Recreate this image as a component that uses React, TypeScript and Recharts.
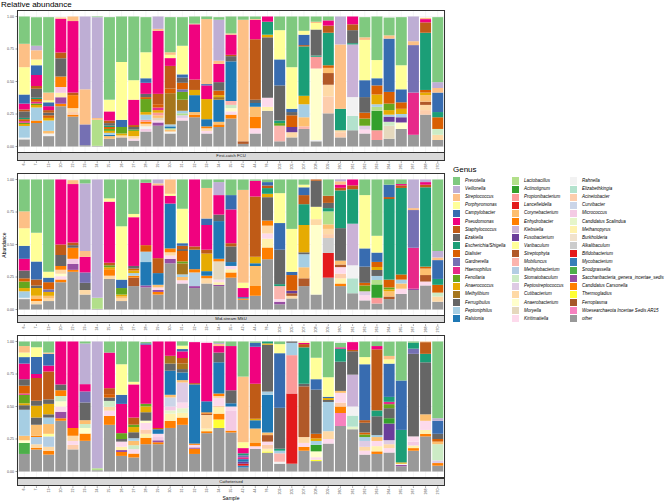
import React from 'react'
import { BarChart, Bar, XAxis, YAxis, CartesianGrid } from 'recharts'

// sample ids on the x axis (same for all three panels)
const samples = [
  '6', '7', '13', '20', '22', '23', '24', '25', '26', '27', '28', '29', '30', '31', '32', '33', '34', '35',
  '42', '44', '76', '203', '205', '207', '208', '209', '260', '261', '262', '263', '264', '265', '267', '268', '270'
]

// genus short keys, in legend order (first = top of stack)
const genusKeys = [
  'Prev', 'Veil', 'Strep', 'Porph', 'Campy', 'Pseud', 'Staph', 'Ezak', 'Esch', 'Dial', 'Gard', 'Haem',
  'Fen', 'Anaer', 'Methyl', 'Ferrug', 'Pepto', 'Ralst',
  'Lacto', 'Actin', 'Propi', 'Lance', 'Coryn', 'Enhyd', 'Kleb', 'Fuso', 'Varib', 'Sphyta', 'Mobil',
  'MethB', 'Stoma', 'PStrep', 'Cuti', 'AnaerB', 'Mory', 'Kirit',
  'Rahn', 'Eliz', 'Acin', 'Curv', 'Micro', 'Scal', 'Metha', 'Burk', 'Alka', 'Bifid', 'Myco', 'Snod',
  'Sacc', 'Cars', 'Therm', 'Ferro', 'Woes', 'other'
]

const genusNames = [
  'Prevotella', 'Veillonella', 'Streptococcus', 'Porphyromonas', 'Campylobacter', 'Pseudomonas',
  'Staphylococcus', 'Ezakiella', 'Escherichia/Shigella', 'Dialister', 'Gardnerella', 'Haemophilus',
  'Fenollaria', 'Anaerococcus', 'Methylibium', 'Ferrugibulus', 'Peptoniphilus', 'Ralstonia',
  'Lactobacillus', 'Actinotignum', 'Propionibacterium', 'Lancefieldella', 'Corynebacterium', 'Enhydrobacter',
  'Klebsiella', 'Fusobacterium', 'Varibaculum', 'Streptophyta', 'Mobiluncus', 'Methylobacterium',
  'Stomatobaculum', 'Peptostreptococcus', 'Cutibacterium', 'Anaerobacterium', 'Moryella', 'Kiritimatiella',
  'Rahnella', 'Elizabethkingia', 'Acinetobacter', 'Curvibacter', 'Micrococcus', 'Candidatus Scalindua',
  'Methanopyrus', 'Burkholderia', 'Alkalibaculum', 'Bifidobacterium', 'Mycobacterium', 'Snodgrassella',
  'Saccharibacteria_genera_incertae_sedis', 'Candidatus Carsonella', 'Thermogladius', 'Ferroplasma',
  'Woesearchaeota Incertae Sedis AR15', 'other'
]

const genusColors = [
  '#7FC97F', '#BEAED4', '#FDC086', '#FFFF99', '#386CB0', '#F0027F', '#BF5B17', '#666666', '#1B9E77',
  '#D95F02', '#7570B3', '#E7298A', '#66A61E', '#E6AB02', '#A6761D', '#666666', '#A6CEE3', '#1F78B4',
  '#B2DF8A', '#33A02C', '#FB9A99', '#E31A1C', '#FDBF6F', '#FF7F00', '#CAB2D6', '#6A3D9A', '#FFFF99',
  '#B15928', '#FBB4AE', '#B3CDE3', '#CCEBC5', '#DECBE4', '#FED9A6', '#FFFFCC', '#E5D8BD', '#FDDAEC',
  '#F2F2F2', '#B3E2CD', '#FDCDAC', '#CBD5E8', '#F4CAE4', '#E6F5C9', '#FFF2AE', '#F1E2CC', '#CCCCCC',
  '#E41A1C', '#377EB8', '#4DAF4A', '#984EA3', '#FF7F00', '#FFFF33', '#A65628', '#F781BF', '#999999'
]

type Abundance = Record<string, number>

// First-catch FCU
const fcu: Abundance[] = [
  { Prev: .21, Strep: .18, Porph: .21, Campy: .07, Pseud: .045, Staph: .015, Ezak: .05, Esch: .01, Dial: .015, Haem: .012, Fen: .01, Anaer: .015, Pepto: .09, Rahn: .013, other: .055 },
  { Prev: .22, Veil: .035, Strep: .07, Porph: .045, Campy: .075, Pseud: .085, Staph: .02, Ezak: .07, Esch: .01, Dial: .02, Haem: .015, Fen: .01, Anaer: .02, Pepto: .1, Enhyd: .02, other: .18 },
  { Prev: .58, Strep: .06, Porph: .015, Campy: .03, Pseud: .03, Staph: .02, Ezak: .02, Dial: .02, Anaer: .02, Pepto: .08, Coryn: .02, Rahn: .02, other: .08 },
  { Strep: .01, Pseud: .26, Staph: .045, Ezak: .14, Enhyd: .08, Micro: .045, Metha: .035, Sacc: .05, Cars: .018, other: .31 },
  { Strep: .035, Pseud: .55, Staph: .02, Enhyd: .1, Cuti: .03, Acin: .02, Cars: .015, other: .23 },
  { Veil: .56, Strep: .27, Gard: .16, other: .01 },
  { Prev: .005, Veil: .775, Strep: .015, Lacto: .2, other: .005 },
  { Prev: .635, Porph: .09, Pseud: .07, Staph: .02, Ezak: .02, Esch: .01, Dial: .015, Fen: .015, Anaer: .015, Pepto: .015, Ralst: .01, Coryn: .02, other: .06 },
  { Prev: .35, Porph: .445, Campy: .055, Fen: .05, Anaer: .015, Cuti: .015, other: .07 },
  { Prev: .49, Porph: .15, Pseud: .195, Staph: .015, Ezak: .02, Fen: .01, Anaer: .04, Cuti: .02, Kirit: .015, other: .045 },
  { Prev: .27, Porph: .2, Campy: .035, Pseud: .085, Ezak: .025, Dial: .015, Fen: .1, Anaer: .02, Pepto: .04, Propi: .015, Enhyd: .015, Cuti: .02, Rahn: .02, Micro: .02, other: .115 },
  { Veil: .095, Strep: .015, Pseud: .485, Staph: .08, Dial: .025, Haem: .02, Anaer: .02, Propi: .02, Coryn: .02, Mory: .02, Kirit: .015, Sacc: .025, other: .16 },
  { Prev: .27, Strep: .02, Porph: .025, Pseud: .06, Staph: .175, Dial: .035, Methyl: .24, Pepto: .015, Ralst: .015, Lacto: .01, Coryn: .015, Rahn: .015, other: .1 },
  { Prev: .22, Porph: .22, Campy: .025, Ezak: .04, Dial: .05, Gard: .02, Fen: .06, Methyl: .085, Pepto: .02, Lacto: .015, PStrep: .02, Kirit: .02, other: .2 },
  { Prev: .055, Strep: .005, Pseud: .425, Staph: .08, Anaer: .04, Ralst: .13, Coryn: .02, Cars: .02, other: .225 },
  { Prev: .02, Strep: .5, Campy: .01, Pseud: .105, Anaer: .155, Ralst: .055, Enhyd: .015, Cuti: .02, Kirit: .02, other: .1 },
  { Prev: .02, Veil: .315, Strep: .025, Pseud: .14, Ezak: .065, Dial: .035, Anaer: .015, Methyl: .02, Ralst: .17, Coryn: .02, Enhyd: .02, other: .15 },
  { Prev: .13, Strep: .01, Pseud: .155, Staph: .01, Ezak: .04, Ralst: .305, Mobil: .03, Stoma: .025, AnaerB: .025, Kirit: .025, Cars: .03, other: .215 },
  { Prev: .025, Strep: .935, Sphyta: .02, other: .02 },
  { Prev: .02, Strep: .005, Pseud: .15, Staph: .465, Ezak: .025, Ralst: .03, Coryn: .075, Enhyd: .09, Kirit: .04, other: .1 },
  { Pseud: .04, Esch: .1, Anaer: .02, Ferrug: .465, Kirit: .07, Metha: .03, other: .275 },
  { Prev: .105, Porph: .225, Campy: .2, Ezak: .27, Esch: .02, Fen: .02, Mobil: .12, other: .04 },
  { Prev: .39, Porph: .32, Campy: .025, Ezak: .025, Dial: .09, Fuso: .04, Cuti: .04, other: .07 },
  { Prev: .11, Porph: .03, Campy: .08, Staph: .01, Esch: .38, Anaer: .065, Pepto: .1, Coryn: .07, Mobil: .02, other: .135 },
  { Prev: .04, Strep: .01, Porph: .05, Ezak: .2, Esch: .01, Propi: .09, AnaerB: .55, Rahn: .01, other: .04 },
  { Prev: .03, Pseud: .04, Staph: .055, Esch: .25, Dial: .02, Coryn: .04, Sphyta: .09, Cuti: .09, Acin: .13, other: .255 },
  { Veil: .215, Strep: .495, Esch: .165, Cuti: .015, Acin: .04, other: .07 },
  { Pseud: .06, Staph: .045, Ezak: .1, Esch: .01, Kleb: .405, Rahn: .145, Eliz: .11, other: .125 },
  { Prev: .155, Strep: .02, Porph: .31, Campy: .13, Ezak: .12, Dial: .045, Fen: .055, PStrep: .03, Kirit: .03, other: .1 },
  { Prev: .335, Porph: .14, Campy: .055, Dial: .07, Anaer: .075, Pepto: .02, Lacto: .03, Actin: .15, Propi: .075, other: .05 },
  { Prev: .137, Strep: .025, Campy: .41, Dial: .09, Fen: .05, Anaer: .035, Pepto: .015, Fuso: .04, Stoma: .03, Mory: .1, other: .06 },
  { Prev: .37, Porph: .185, Campy: .1, Dial: .05, Anaer: .04, Pepto: .025, Fuso: .04, AnaerB: .05, other: .135 },
  { Veil: .19, Strep: .03, Gard: .365, Haem: .325, other: .09 },
  { Strep: .01, Pseud: .025, Staph: .08, Esch: .44, Dial: .02, Anaer: .02, Coryn: .05, Sphyta: .025, Cuti: .04, Acin: .035, other: .245 },
  { Prev: .5, Veil: .045, Strep: .035, Campy: .15, Esch: .04, Dial: .09, Stoma: .045, Cuti: .04, other: .05 }
]

// Mid-stream MSU
const msu: Abundance[] = [
  { Prev: .245, Strep: .13, Porph: .135, Campy: .1, Pseud: .09, Ezak: .06, Dial: .025, Fen: .05, Anaer: .025, Pepto: .05, Rahn: .01, other: .08 },
  { Prev: .41, Porph: .22, Campy: .14, Staph: .045, Ezak: .02, Anaer: .06, Enhyd: .015, Coryn: .025, Cuti: .025, other: .04 },
  { Prev: .71, Porph: .045, Campy: .035, Dial: .055, Gard: .02, Anaer: .03, Coryn: .02, Cuti: .02, other: .065 },
  { Pseud: .5, Staph: .08, Ezak: .085, Enhyd: .03, Cuti: .03, AnaerB: .02, Kirit: .025, Cars: .02, other: .21 },
  { Strep: .03, Pseud: .45, Staph: .02, Ezak: .02, Enhyd: .085, Micro: .04, Sacc: .045, Cars: .015, other: .29 },
  { Prev: .03, Veil: .52, Strep: .045, Pseud: .12, Gard: .08, Ferrug: .055, Cuti: .035, other: .115 },
  { Veil: .91, Lacto: .085, other: .005 },
  { Prev: .145, Porph: .025, Pseud: .47, Staph: .02, Fen: .015, Anaer: .015, Enhyd: .05, Cuti: .025, other: .235 },
  { Prev: .36, Porph: .41, Campy: .065, Fen: .05, Anaer: .015, Coryn: .015, Cuti: .02, other: .065 },
  { Prev: .265, Porph: .025, Pseud: .375, Ezak: .02, Dial: .015, Anaer: .02, Pepto: .02, Enhyd: .015, Sphyta: .065, other: .18 },
  { Prev: .025, Pseud: .48, Dial: .05, Pepto: .08, Ralst: .18, Sacc: .015, other: .17 },
  { Veil: .03, Strep: .015, Pseud: .56, Staph: .115, Ralst: .09, Coryn: .02, Kirit: .02, Sacc: .015, Cars: .02, other: .115 },
  { Strep: .11, Porph: .015, Pseud: .06, Ralst: .345, Enhyd: .03, Cuti: .025, Kirit: .025, Sacc: .035, other: .355 },
  { Prev: .225, Porph: .265, Campy: .02, Staph: .025, Ezak: .015, Dial: .08, Fen: .015, Methyl: .085, Pepto: .02, Coryn: .025, Kirit: .025, other: .2 },
  { Pseud: .515, Staph: .025, Ralst: .15, Enhyd: .025, MethB: .105, Sacc: .015, other: .165 },
  { Prev: .065, Strep: .235, Campy: .05, Pseud: .19, Staph: .03, Anaer: .135, Ralst: .035, Enhyd: .02, Cuti: .04, other: .2 },
  { Prev: .02, Veil: .1, Pseud: .15, Ezak: .05, Ralst: .29, Enhyd: .02, Mory: .14, Kirit: .02, Metha: .02, Sacc: .01, other: .18 },
  { Prev: .12, Campy: .11, Pseud: .26, Staph: .025, Ezak: .12, Ralst: .03, Kirit: .025, Metha: .025, Cars: .04, other: .245 },
  { Prev: .08, Strep: .715, Porph: .04, Pseud: .07, Ralst: .01, Enhyd: .01, other: .075 },
  { Prev: .01, Pseud: .12, Staph: .465, Anaer: .05, Ralst: .02, Coryn: .155, Enhyd: .075, other: .105 },
  { Prev: .02, Campy: .026, Staph: .02, Esch: .044, Anaer: .026, Ferrug: .18, Enhyd: .039, Cuti: .06, Kirit: .04, Metha: .068, Cars: .09, other: .387 },
  { Prev: .105, Porph: .23, Campy: .205, Ezak: .265, Esch: .015, Mobil: .1, Kirit: .02, Sacc: .02, other: .04 },
  { Prev: .38, Porph: .33, Campy: .025, Dial: .12, Fuso: .02, Sphyta: .02, Cuti: .02, other: .085 },
  { Prev: .04, Porph: .02, Campy: .06, Staph: .07, Esch: .16, Anaer: .21, Ferrug: .015, Pepto: .1, Coryn: .085, Sphyta: .06, other: .18 },
  { Staph: .01, Ezak: .2, Varib: .095, Cuti: .045, AnaerB: .535, other: .115 },
  { Prev: .125, Staph: .055, Ezak: .04, Esch: .025, Lacto: .1, Coryn: .035, Cuti: .04, Acin: .03, Alka: .115, Bifid: .19, other: .245 },
  { Veil: .015, Strep: .025, Pseud: .025, Staph: .02, Esch: .29, Ferrug: .25, Coryn: .03, Sphyta: .02, Kirit: .05, Acin: .036, Metha: .04, Cars: .02, other: .18 },
  { Pseud: .045, Staph: .03, Esch: .265, Kleb: .32, Rahn: .1, Eliz: .115, other: .125 },
  { Prev: .12, Porph: .41, Campy: .14, Ezak: .125, Dial: .02, Fen: .045, PStrep: .03, Kirit: .04, other: .07 },
  { Prev: .433, Porph: .129, Campy: .072, Dial: .039, Anaer: .023, Ferrug: .046, Pepto: .031, Lacto: .034, Actin: .103, Propi: .044, other: .046 },
  { Prev: .04, Campy: .095, Staph: .015, Esch: .62, Dial: .06, Fen: .015, Anaer: .015, Coryn: .04, Sphyta: .02, other: .08 },
  { Prev: .035, Pseud: .01, Staph: .02, Esch: .665, Dial: .04, Pepto: .03, Coryn: .04, Kirit: .04, other: .12 },
  { Veil: .22, Strep: .015, Gard: .29, Haem: .315, Sacc: .01, other: .15 },
  { Veil: .02, Pseud: .02, Staph: .02, Esch: .61, Dial: .015, Coryn: .05, Sphyta: .05, Kirit: .03, other: .185 },
  { Prev: .55, Veil: .05, Strep: .02, Campy: .145, Esch: .045, Dial: .06, Stoma: .03, Cuti: .04, other: .06 }
]

// Catheterised
const cath: Abundance[] = [
  { Prev: .035, Strep: .05, Porph: .035, Campy: .05, Pseud: .12, Ezak: .05, Dial: .06, Haem: .01, Fen: .065, Anaer: .015, Ferrug: .035, Pepto: .2, Coryn: .035, AnaerB: .02, Snod: .085, other: .135 },
  { Prev: .045, Porph: .075, Campy: .13, Pseud: .03, Staph: .175, Ezak: .04, Anaer: .09, Ferrug: .055, Enhyd: .01, Coryn: .085, MethB: .055, Cuti: .03, Cars: .01, other: .17 },
  { Prev: .085, Strep: .01, Campy: .09, Pseud: .045, Staph: .215, Ezak: .035, Anaer: .08, Ferrug: .025, Pepto: .05, Coryn: .075, Varib: .02, MethB: .08, Cuti: .03, Cars: .03, other: .13 },
  { Pseud: .33, Ezak: .045, Enhyd: .045, Stoma: .04, AnaerB: .04, Kirit: .04, Sacc: .05, Cars: .02, other: .39 },
  { Pseud: .665, Enhyd: .06, Cuti: .04, Kirit: .03, Acin: .035, other: .17 },
  { Prev: .015, Veil: .313, Pseud: .056, Gard: .085, Ferrug: .136, Coryn: .03, Stoma: .03, AnaerB: .043, Cars: .056, other: .236 },
  { Veil: .975, Lacto: .015, other: .01 },
  { Prev: .085, Pseud: .274, Staph: .046, Dial: .026, Ferrug: .026, Stoma: .045, Cuti: .03, Kirit: .04, Cars: .069, other: .359 },
  { Prev: .175, Porph: .235, Campy: .07, Pseud: .225, Fen: .045, Ferrug: .02, Kirit: .04, Metha: .025, Sacc: .015, Cars: .03, other: .12 },
  { Prev: .31, Porph: .02, Pseud: .255, Staph: .055, Fen: .018, Anaer: .04, Ferrug: .046, Pepto: .02, Coryn: .034, Stoma: .03, Kirit: .034, Cars: .03, other: .108 },
  { Prev: .01, Campy: .01, Pseud: .455, Fen: .02, Anaer: .045, Ferrug: .065, AnaerB: .018, Kirit: .05, Acin: .033, Metha: .03, Cars: .05, other: .21 },
  { Pseud: .665, Dial: .01, Ralst: .035, Kirit: .025, Micro: .025, Sacc: .015, Cars: .015, other: .21 },
  { Pseud: .11, Methyl: .06, Ferrug: .055, Ralst: .185, Coryn: .02, Curv: .07, Micro: .03, Scal: .025, Metha: .055, Cars: .055, other: .335 },
  { Prev: .033, Porph: .026, Campy: .018, Pseud: .051, Staph: .041, Methyl: .044, Ferrug: .026, Ralst: .059, Coryn: .018, PStrep: .154, Kirit: .044, Scal: .036, Metha: .036, Cars: .056, other: .359 },
  { Pseud: .315, Staph: .01, Ralst: .455, Enhyd: .01, Kirit: .02, Sacc: .01, Cars: .04, other: .135 },
  { Pseud: .45, Ralst: .085, Enhyd: .01, Sphyta: .01, Cuti: .105, Metha: .02, Cars: .015, other: .295 },
  { Prev: .01, Veil: .01, Strep: .015, Pseud: .05, Ezak: .075, Ralst: .24, Enhyd: .02, Cuti: .015, Kirit: .06, Acin: .01, Metha: .05, Cars: .045, Therm: .065, other: .335 },
  { Prev: .035, Pseud: .34, Ezak: .1, Ralst: .025, Kirit: .03, Micro: .155, Cars: .015, other: .3 },
  { Prev: .27, Strep: .505, Porph: .045, Pseud: .04, Esch: .015, Gard: .015, Haem: .015, Ralst: .02, Fuso: .015, Bifid: .015, Myco: .015, other: .03 },
  { Prev: .01, Campy: .03, Pseud: .285, Staph: .27, Anaer: .01, Ralst: .065, Coryn: .11, Enhyd: .025, Kirit: .02, other: .175 },
  { Esch: .015, Anaer: .01, Ferrug: .36, Pepto: .025, Ralst: .29, Coryn: .02, Sphyta: .05, Kirit: .025, Acin: .03, Metha: .02, Therm: .01, other: .145 },
  { Prev: .02, Porph: .07, Campy: .42, Ezak: .315, Esch: .015, Pepto: .02, Mobil: .065, Rahn: .015, other: .06 },
  { Ezak: .01, Pepto: .095, Propi: .295, Lance: .54, other: .06 },
  { Porph: .01, Pseud: .01, Staph: .025, Esch: .28, Ferrug: .02, Sphyta: .39, Cuti: .045, Kirit: .03, Cars: .03, other: .16 },
  { Prev: .125, Porph: .165, Campy: .08, Ezak: .34, Dial: .035, Anaer: .02, Pepto: .03, Actin: .05, AnaerB: .045, Kirit: .02, Therm: .01, other: .08 },
  { Prev: .275, Porph: .15, Campy: .01, Anaer: .015, Ferrug: .015, Pepto: .225, Cuti: .06, Kirit: .035, other: .215 },
  { Prev: .035, Pseud: .01, Esch: .1, Ferrug: .225, Coryn: .015, Kirit: .075, Acin: .03, Cars: .05, Woes: .1, other: .35 },
  { Pseud: .06, Staph: .01, Ezak: .18, Kleb: .245, Rahn: .07, Eliz: .085, Scal: .02, other: .325 },
  { Prev: .12, Porph: .055, Campy: .43, Staph: .02, Ezak: .075, Dial: .015, Fen: .02, Pepto: .03, PStrep: .045, Cuti: .03, Kirit: .03, other: .13 },
  { Prev: .035, Pseud: .025, Staph: .47, Esch: .045, Ferrug: .145, Pepto: .015, Coryn: .03, Kirit: .04, Metha: .04, Cars: .02, other: .135 },
  { Prev: .11, Strep: .026, Porph: .033, Campy: .256, Esch: .038, Haem: .018, Fen: .031, Ferrug: .077, Actin: .041, Fuso: .128, PStrep: .031, Cuti: .03, Kirit: .034, other: .146 },
  { Prev: .3, Campy: .38, Esch: .25, Anaer: .01, Rahn: .01, Sacc: .01, other: .04 },
  { Prev: .01, Esch: .045, Gard: .04, Ferrug: .635, Kirit: .04, Micro: .03, Metha: .02, Cars: .02, other: .16 },
  { Strep: .005, Staph: .09, Esch: .065, Ferrug: .4, Coryn: .05, Kirit: .07, Metha: .03, Cars: .02, other: .27 },
  { Prev: .59, Veil: .02, Campy: .1, Ezak: .04, Dial: .02, Coryn: .02, Stoma: .125, PStrep: .02, Cars: .02, other: .045 }
]

const yTicks = [0, 0.25, 0.5, 0.75, 1]

const FONT = '"Liberation Sans", Arial, Helvetica, sans-serif'
const CHART_W = 446
const AXIS_W = 17
const PLOT_W = 428
const PLOT_H = 143
const STRIP_H = 8.4
const XAXIS_H = 20
const CHART_H = PLOT_H + XAXIS_H

const SampleTick = (props: any) => {
  const { x, payload } = props
  const y0 = PLOT_H + STRIP_H
  return (
    <g>
      <line x1={x} x2={x} y1={y0} y2={y0 + 1.4} stroke="#333333" strokeWidth={0.5} />
      <text
        x={x}
        y={y0 + 2.2}
        transform={`rotate(-90 ${x} ${y0 + 2.2})`}
        textAnchor="end"
        dominantBaseline="central"
        fontSize={3.6}
        fill="#4D4D4D"
        fontFamily={FONT}
      >
        {payload.value}
      </text>
    </g>
  )
}

function Panel({ top, values, label }: { top: number; values: Abundance[]; label: string }) {
  const data = samples.map((s, i) => ({ sample: s, ...values[i] }))
  // ggplot stacks the first factor level on top, so draw in reverse
  const order = genusKeys.map((k, i) => i).reverse()

  return (
    <div style={{ position: 'absolute', left: 0, top, width: CHART_W, height: CHART_H }}>
      <BarChart
        width={CHART_W}
        height={CHART_H}
        data={data}
        margin={{ top: 0, right: 1, left: 0, bottom: 0 }}
        barCategoryGap="5%"
      >
        <CartesianGrid stroke="#EBEBEB" strokeWidth={0.5} />
        <XAxis
          dataKey="sample"
          interval={0}
          height={XAXIS_H}
          axisLine={false}
          tickLine={false}
          padding={{ left: 1.2, right: 1.2 }}
          tick={<SampleTick />}
        />
        <YAxis
          type="number"
          width={AXIS_W}
          domain={[-0.05, 1.05]}
          allowDataOverflow
          ticks={yTicks}
          tickFormatter={(v: number) => v.toFixed(2)}
          axisLine={false}
          tickLine={{ stroke: '#333333', strokeWidth: 0.5 }}
          tickSize={1.5}
          tickMargin={1.5}
          tick={{ fontSize: 3.6, fill: '#4D4D4D', fontFamily: FONT }}
        />
        {order.map((i) => (
          <Bar
            key={genusKeys[i]}
            dataKey={genusKeys[i]}
            stackId="a"
            fill={genusColors[i]}
            isAnimationActive={false}
          />
        ))}
      </BarChart>

      {/* panel border */}
      <div
        style={{
          position: 'absolute', left: AXIS_W, top: 0, width: PLOT_W, height: PLOT_H,
          border: '0.8px solid #333333', boxSizing: 'border-box', pointerEvents: 'none'
        }}
      />
      {/* facet strip, below the panel */}
      <div
        style={{
          position: 'absolute', left: AXIS_W, top: PLOT_H - 0.5, width: PLOT_W, height: STRIP_H,
          background: '#D9D9D9', border: '0.8px solid #333333', boxSizing: 'border-box',
          display: 'flex', alignItems: 'center', justifyContent: 'center',
          fontSize: 4.2, color: '#1A1A1A', fontFamily: FONT, lineHeight: 1
        }}
      >
        {label}
      </div>
    </div>
  )
}

function GenusLegend() {
  const colX = [453.3, 512.3, 570.3]
  const rowY0 = 181
  const step = 8.1
  return (
    <>
      <div style={{ position: 'absolute', left: 453, top: 164.5, fontSize: 8, lineHeight: '10px', fontFamily: FONT }}>
        Genus
      </div>
      {genusNames.map((name, i) => {
        const col = Math.floor(i / 18)
        const row = i % 18
        const cy = rowY0 + row * step
        return (
          <React.Fragment key={name}>
            <div
              style={{
                position: 'absolute', left: colX[col], top: cy - 3.6, width: 7.2, height: 7.2,
                background: genusColors[i]
              }}
            />
            <div
              style={{
                position: 'absolute', left: colX[col] + 11.8, top: cy - 3, height: 6,
                lineHeight: '6px', fontSize: 4.5, fontStyle: 'italic', whiteSpace: 'nowrap',
                fontFamily: FONT, color: '#000'
              }}
            >
              {name}
            </div>
          </React.Fragment>
        )
      })}
    </>
  )
}

export default function App() {
  return (
    <div
      style={{
        position: 'absolute', left: 0, top: 0, width: 667, height: 502, background: '#fff',
        overflow: 'hidden', fontFamily: FONT
      }}
    >
      <div style={{ position: 'absolute', left: 1, top: 0, fontSize: 8, lineHeight: '9px' }}>
        Relative abundance
      </div>
      <div
        style={{
          position: 'absolute', left: 3.5, top: 245, fontSize: 5, whiteSpace: 'nowrap',
          transform: 'translate(-50%, -50%) rotate(-90deg)'
        }}
      >
        Abundance
      </div>

      <Panel top={9.8} values={fcu} label="First-catch FCU" />
      <Panel top={172.6} values={msu} label="Mid-stream MSU" />
      <Panel top={335} values={cath} label="Catheterised" />

      <div
        style={{
          position: 'absolute', left: AXIS_W + PLOT_W / 2, top: 498, fontSize: 5, whiteSpace: 'nowrap',
          transform: 'translate(-50%, -50%)'
        }}
      >
        Sample
      </div>

      <GenusLegend />
    </div>
  )
}
